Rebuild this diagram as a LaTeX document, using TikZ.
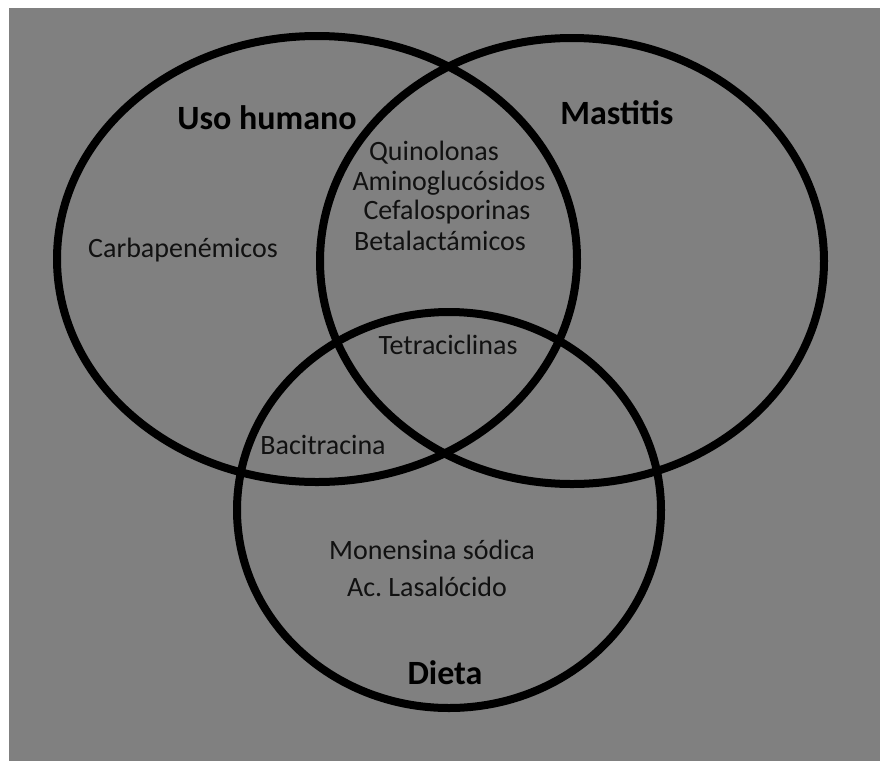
\documentclass[tikz,border=0pt]{standalone}
\usepackage{fontspec}
\setmainfont{Carlito}
\frenchspacing
\definecolor{venngray}{RGB}{128,128,128}
\definecolor{inkdark}{RGB}{17,17,17}
\begin{document}
\begin{tikzpicture}[x=1pt, y=-1pt]
            \tikzstyle{ring}=[draw=black, line width=8pt]
            \tikzstyle{set label}=[font=\fontsize{34}{36}\selectfont\bfseries, text=black, inner sep=0pt]
            \tikzstyle{drug}=[font=\fontsize{28}{30}\selectfont, text=inkdark, inner sep=0pt]

            % fondo
            \useasboundingbox (0,0) rectangle (880,761);
            \fill[white] (0,0) rectangle (880,761);
            \fill[venngray] (9,8) rectangle (880,761);

            % conjuntos
            \draw[ring] (317,259) ellipse (260 and 223);
            \draw[ring] (572,261) ellipse (252 and 223);
            \draw[ring] (449,510) ellipse (212 and 198);

            % nombres de los conjuntos
            \node[set label] (humano) at (267,118) {Uso humano};
            \node[set label] (mastitis) at (617,113) {Mastitis};
            \node[set label] (dieta) at (445,673) {Dieta};

            % antibióticos
            \node[drug] (carba) at (183,250) {Carbapenémicos};
            \node[drug] (quino) at (434,153) {Quinolonas};
            \node[drug] (amino) at (449,183) {Aminoglucósidos};
            \node[drug] (cefa) at (447,212) {Cefalosporinas};
            \node[drug] (beta) at (440,241) {Betalactámicos};
            \node[drug] (tetra) at (448,345) {Tetraciclinas};
            \node[drug] (baci) at (323,445) {Bacitracina};
            \node[drug] (monen) at (432,550) {Monensina sódica};
            \node[drug] (lasa) at (427,587) {Ac. Lasalócido};
\end{tikzpicture}
\end{document}
